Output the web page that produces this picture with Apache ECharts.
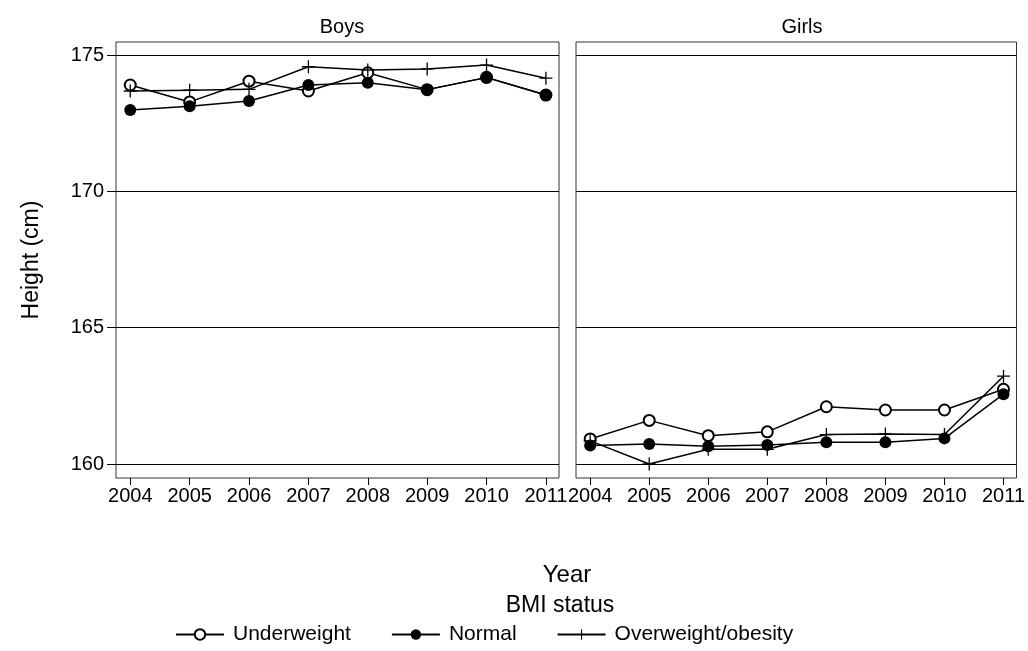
<!DOCTYPE html>
<html>
<head>
<meta charset="utf-8">
<script src="https://cdn.jsdelivr.net/npm/echarts@6/dist/echarts.min.js"></script>
<style>html,body{margin:0;padding:0;background:#fff}#c{width:1028px;height:651px}</style>
</head>
<body>
<div id="c"></div>
<script>
const years = [2004, 2005, 2006, 2007, 2008, 2009, 2010, 2011];
const yTicks = [160, 165, 170, 175];
const panels = ['Boys', 'Girls'];
const groups = ['Underweight', 'Normal', 'Overweight/obesity'];
const boysUnder  = [173.90, 173.28, 174.04, 173.68, 174.35, 173.73, 174.18, 173.53];
const boysNormal = [172.98, 173.12, 173.31, 173.90, 173.98, 173.73, 174.17, 173.53];
const boysOver   = [173.68, 173.71, 173.74, 174.57, 174.45, 174.49, 174.63, 174.15];
const girlsUnder  = [160.92, 161.60, 161.04, 161.18, 162.10, 161.98, 161.98, 162.74];
const girlsNormal = [160.68, 160.73, 160.65, 160.70, 160.80, 160.80, 160.94, 162.56];
const girlsOver   = [160.85, 160.00, 160.54, 160.54, 161.08, 161.10, 161.08, 163.22];

const FONT = 'Liberation Sans, Arial, sans-serif';
const plusPath = 'path://M9,0H11V9H20V11H11V20H9V11H0V9H9Z';
const symbols = ['emptyCircle', 'circle', plusPath];
const sizes = [11, 12, 13];
const panelData = [[boysUnder, boysNormal, boysOver], [girlsUnder, girlsNormal, girlsOver]];

const grids = [
  {left: 116, top: 42, width: 443, height: 436},
  {left: 576, top: 42, width: 443, height: 436}
].map(g => Object.assign(g, {show: true, borderColor: '#333', borderWidth: 1, backgroundColor: 'transparent'}));

const xAxes = grids.map((g, i) => ({
  type: 'value', gridIndex: i, min: 2003.76, max: 2011.22,
  splitLine: {show: false},
  axisLine: {show: false},
  axisTick: {show: true, length: 7, inside: false, customValues: years, lineStyle: {color: '#000', width: 1}},
  axisLabel: {customValues: years, formatter: v => String(v), color: '#000', fontSize: 20, fontFamily: FONT, margin: 8}
}));
const yAxes = grids.map((g, i) => ({
  type: 'value', gridIndex: i, min: 159.487, max: 175.477,
  splitLine: {show: false},
  axisLine: {show: false},
  axisTick: {show: i === 0, length: 9, customValues: yTicks, lineStyle: {color: '#000', width: 1}},
  axisLabel: {show: i === 0, customValues: yTicks, color: '#000', fontSize: 20, fontFamily: FONT, margin: 12},
  name: i === 0 ? 'Height (cm)' : '', nameLocation: 'middle', nameGap: 73,
  nameTextStyle: {color: '#000', fontSize: 23, fontFamily: FONT}
}));

const series = [];
panelData.forEach((arrs, p) => {
  arrs.forEach((vals, k) => {
    const s = {
      type: 'line', name: groups[k], xAxisIndex: p, yAxisIndex: p,
      data: years.map((y, j) => [y, vals[j]]),
      symbol: symbols[k], symbolSize: sizes[k], showSymbol: true,
      lineStyle: {color: '#000', width: 1.5},
      itemStyle: {color: '#000', borderColor: '#000', borderWidth: k === 0 ? 1.6 : 0},
      emphasis: {disabled: true}, animation: false, z: 3
    };
    if (k === 0) {
      s.markLine = {
        silent: true, symbol: 'none', animation: false,
        label: {show: false},
        lineStyle: {color: '#000', width: 1, type: 'solid'},
        data: yTicks.map(v => ({yAxis: v}))
      };
    }
    series.push(s);
  });
});

const option = {
  backgroundColor: '#fff',
  animation: false,
  title: [
    {text: panels[0], left: 337, top: 12, textAlign: 'center', textStyle: {fontSize: 20, fontWeight: 'normal', color: '#000', fontFamily: FONT}},
    {text: panels[1], left: 797, top: 12, textAlign: 'center', textStyle: {fontSize: 20, fontWeight: 'normal', color: '#000', fontFamily: FONT}}
  ],
  grid: grids,
  xAxis: xAxes,
  yAxis: yAxes,
  legend: {
    data: groups, left: 170, top: 619, itemWidth: 48, itemHeight: 13, itemGap: 40,
    textStyle: {fontSize: 21, color: '#000', fontFamily: FONT, padding: [0, 0, 0, 4]},
    inactiveColor: '#000'
  },
  graphic: [
    {type: 'text', x: 567, y: 563, style: {text: 'Year', fill: '#000', font: '24px ' + FONT, textAlign: 'center'}},
    {type: 'text', x: 560, y: 594, style: {text: 'BMI status', fill: '#000', font: '23px ' + FONT, textAlign: 'center'}}
  ],
  series: series
};
const chart = echarts.init(document.getElementById('c'), null, {renderer: 'canvas'});
chart.setOption(option);
</script>
</body>
</html>
